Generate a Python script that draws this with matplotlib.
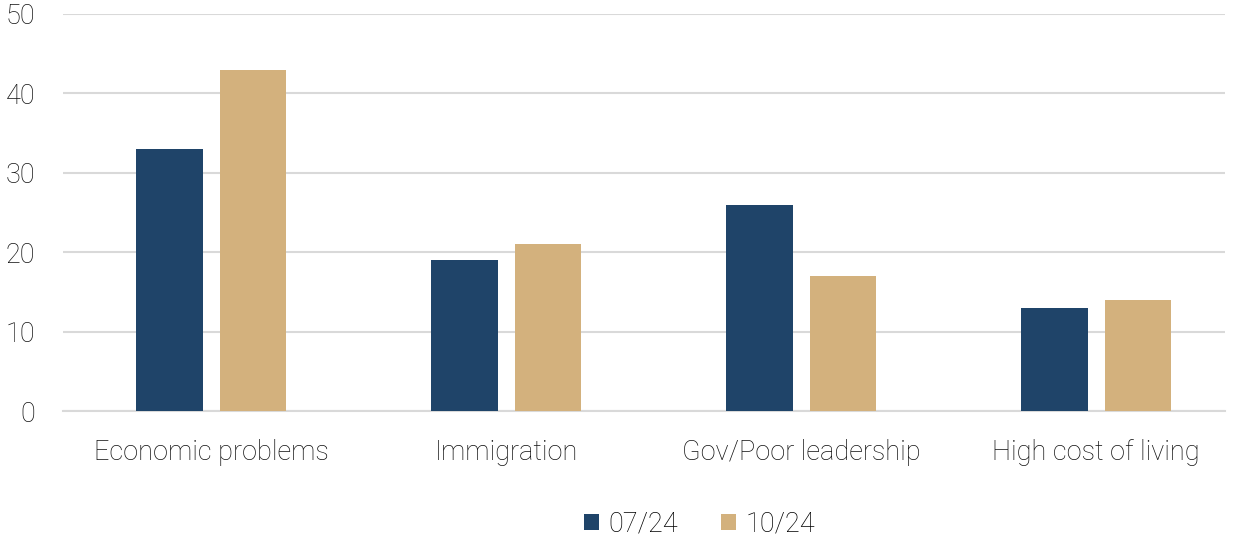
import matplotlib.pyplot as plt
import numpy as np

# Dane
categories = ["Economic problems", "Immigration", "Gov/Poor leadership", "High cost of living"]
series_names = ["07/24", "10/24"]
values_jul = [33, 19, 26, 13]
values_oct = [43, 21, 17, 14]

colors = ["#1F4469", "#D3B17D"]

plt.rcParams["font.family"] = ["Roboto", "DejaVu Sans"]
plt.rcParams["font.weight"] = "light"

fig = plt.figure(figsize=(12.4, 5.37), dpi=100)
ax = fig.add_axes([63 / 1240, 1 - 411 / 537, (1225 - 63) / 1240, (411 - 14) / 537])

x = np.arange(len(categories))
w = 0.227
off = 0.1415
ax.bar(x - off, values_jul, width=w, color=colors[0], label=series_names[0], zorder=3)
ax.bar(x + off, values_oct, width=w, color=colors[1], label=series_names[1], zorder=3)

ax.set_xlim(-0.5025, 3.4364)
ax.set_ylim(0, 50)
ax.set_yticks(range(0, 51, 10))
ax.yaxis.grid(True, color="#D9D9D9", linewidth=1.5, zorder=0)
ax.set_axisbelow(True)
for s in ["top", "right", "left"]:
    ax.spines[s].set_visible(False)
ax.spines["bottom"].set_color("#D9D9D9")
ax.spines["bottom"].set_linewidth(1.5)
ax.tick_params(axis="both", length=0, labelsize=19.5, colors="#111111")
ax.tick_params(axis="y", pad=20)
ax.tick_params(axis="x", pad=20)
ax.set_xticks(x)
ax.set_xticklabels(categories)

fig.legend(loc="center", bbox_to_anchor=(0.564, 1 - 524 / 537), ncol=2, frameon=False,
           fontsize=19.5, handlelength=0.55, handleheight=0.55, handletextpad=0.35,
           columnspacing=1.6)

fig.savefig("out.png", dpi=100)
